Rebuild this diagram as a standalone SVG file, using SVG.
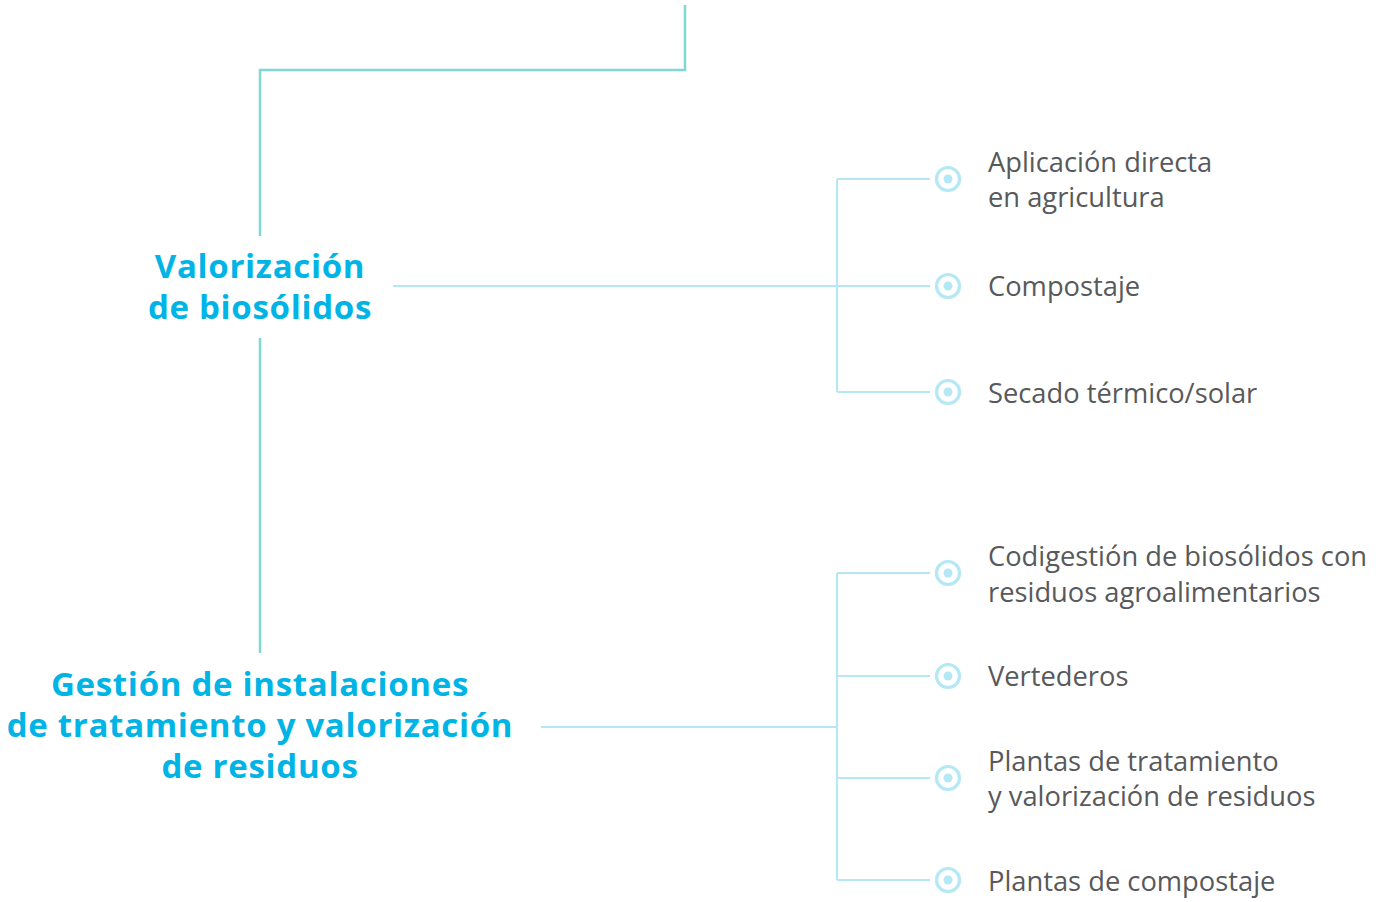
<svg xmlns="http://www.w3.org/2000/svg" width="1382" height="902" viewBox="0 0 1382 902">
<style>
.teal{fill:none;stroke:#80d8d2;stroke-width:2.5}
.conn{fill:none;stroke:#b3e8f4;stroke-width:2}
.ring{fill:#fff;stroke:#b3e8f4;stroke-width:3.2}
.dot{fill:#b3e8f4}
.title{font-family:"Open Sans","Noto Sans",sans-serif;font-weight:700;font-size:33px;fill:#00b4e6;letter-spacing:0.7px;text-anchor:middle}
.item{font-family:"Open Sans","Noto Sans",sans-serif;font-size:27.3px;fill:#58595b}
</style>
<defs>
<g id="bullet"><circle class="ring" r="11.5"/><circle class="dot" r="4.5"/></g>
</defs>
<g id="connectors">
<path class="teal" d="M685 5V70H260V236"/>
<path class="teal" d="M260 338V653"/>
<path class="conn" d="M393 286H930M837 179V392M837 179H930M837 392H930"/>
<path class="conn" d="M541 727H837M837 573V880M837 573H930M837 676H930M837 778H930M837 880H930"/>
</g>
<g id="node-valorizacion"><text class="title" x="260" y="278">Valorización</text><text class="title" x="260" y="319">de biosólidos</text></g>
<g id="node-gestion"><text class="title" x="260" y="696">Gestión de instalaciones</text><text class="title" x="260" y="737">de tratamiento y valorización</text><text class="title" x="260" y="778">de residuos</text></g>
<g id="item-1"><use href="#bullet" x="948" y="179"/><text class="item" x="988" y="172">Aplicación directa</text><text class="item" x="988" y="207">en agricultura</text></g>
<g id="item-2"><use href="#bullet" x="948" y="286"/><text class="item" x="988" y="296">Compostaje</text></g>
<g id="item-3"><use href="#bullet" x="948" y="392"/><text class="item" x="988" y="403">Secado térmico/solar</text></g>
<g id="item-4"><use href="#bullet" x="948" y="573"/><text class="item" x="988" y="566">Codigestión de biosólidos con</text><text class="item" x="988" y="602">residuos agroalimentarios</text></g>
<g id="item-5"><use href="#bullet" x="948" y="676"/><text class="item" x="988" y="686">Vertederos</text></g>
<g id="item-6"><use href="#bullet" x="948" y="778"/><text class="item" x="988" y="771">Plantas de tratamiento</text><text class="item" x="988" y="806">y valorización de residuos</text></g>
<g id="item-7"><use href="#bullet" x="948" y="880"/><text class="item" x="988" y="891">Plantas de compostaje</text></g>
</svg>
